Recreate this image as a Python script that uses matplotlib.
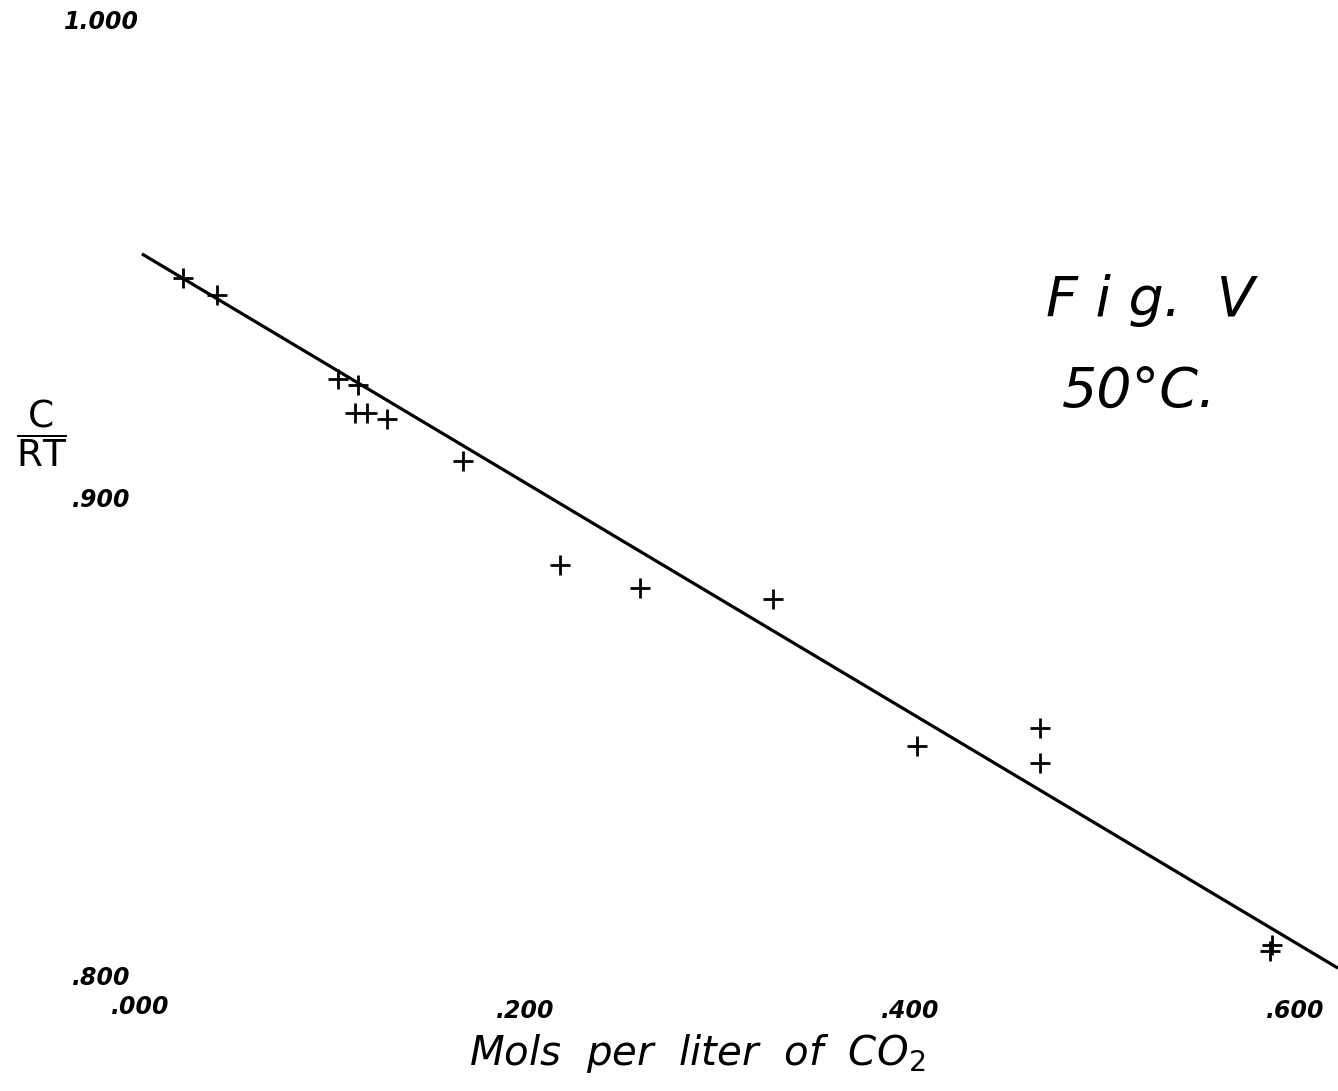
import matplotlib
matplotlib.use("Agg")
import matplotlib.pyplot as plt

# Data (mols per liter of CO2, C/RT)
co2 = [0.0223, 0.0400, 0.1030, 0.1132, 0.1117, 0.1179, 0.1283, 0.1678,
       0.2182, 0.2597, 0.3288, 0.4036, 0.4675, 0.4675, 0.5880, 0.5870]
c_rt = [0.9464, 0.9428, 0.9253, 0.9240, 0.9182, 0.9182, 0.9169, 0.9081,
        0.8864, 0.8816, 0.8793, 0.8486, 0.8524, 0.8451, 0.8069, 0.8056]

# Fitted straight line
fit_x = [0.001, 0.6223]
fit_y = [0.9515, 0.8021]

x_ticks = [0.000, 0.200, 0.400, 0.600]
x_tick_labels = [".000", ".200", ".400", ".600"]
y_ticks = [0.800, 0.900, 1.000]
y_tick_labels = [".800", ".900", "1.000"]

fig = plt.figure(figsize=(13.38, 10.91), dpi=100)
ax = fig.add_axes([0, 0, 1, 1])
ax.set_xlim(-0.0727, 0.6223)
ax.set_ylim(0.7764, 1.0046)
ax.axis("off")

ax.plot(fit_x, fit_y, color="black", lw=2.3, solid_capstyle="butt")
ax.plot(co2, c_rt, linestyle="none", marker="+", markersize=15,
        markeredgewidth=2.0, color="black")

tick_font = dict(fontsize=17, fontstyle="italic", fontweight="bold",
                 color="black", family="DejaVu Sans")
for xv, lab in zip(x_ticks, x_tick_labels):
    dy = -0.0060 if xv == 0 else -0.0068
    ax.text(xv, 0.8 + dy, lab, ha="center", va="center", **tick_font)
for yv, lab in zip(y_ticks, y_tick_labels):
    ax.text(-0.0200, yv, lab, ha="center", va="center", **tick_font)

ax.text(0.2895, 0.7842, "Mols  per  liter  of  CO$_2$",
        ha="center", va="center", fontsize=29, fontstyle="italic",
        family="DejaVu Sans", color="black")

ax.text(-0.0510, 0.9140, r"$\mathsf{\dfrac{C}{RT}}$", ha="center",
        va="center", fontsize=27, color="black")

ax.text(0.5247, 0.9418, "F i g.  Ⅴ", ha="center", va="center",
        fontsize=40, fontstyle="italic", family="DejaVu Sans", color="black")
ax.text(0.5190, 0.9228, "50°C.", ha="center", va="center",
        fontsize=40, fontstyle="italic", family="DejaVu Sans", color="black")

fig.savefig("out.png", dpi=100, facecolor="white")
